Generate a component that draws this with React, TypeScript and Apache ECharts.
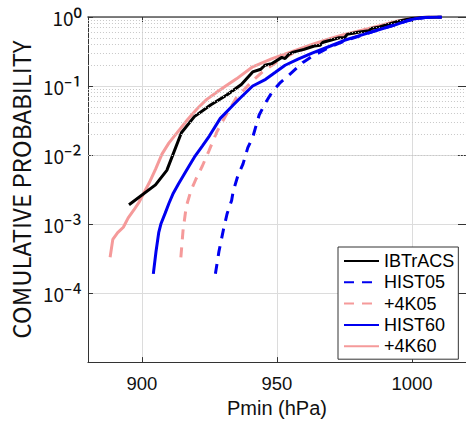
import React, { useEffect, useRef } from "react";
import * as echarts from "echarts";

// Pmin (hPa), cumulative probability
const ibtracs: [number, number][] = [
  [895.2, 0.0019], [905.0, 0.0037], [909.2, 0.006], [912.0, 0.0115], [914.6, 0.021],
  [919.4, 0.036], [925.4, 0.053], [931.4, 0.074], [936.8, 0.105], [941, 0.16],
  [944, 0.175], [945.5, 0.2], [948, 0.21], [951.8, 0.26], [953, 0.25], [954.5, 0.29],
  [956, 0.31], [960, 0.34], [963.8, 0.38], [966, 0.39], [967, 0.43], [969.8, 0.46],
  [973, 0.5], [975, 0.5], [976, 0.56], [980, 0.6], [984, 0.63], [985, 0.68],
  [988, 0.72], [991.4, 0.79], [995, 0.87], [999.8, 0.95], [1005, 0.99], [1011, 1],
];
const hist05: [number, number][] = [
  [927.2, 0.00019], [928.5, 0.0004], [930.2, 0.00084], [931.5, 0.0014], [933.2, 0.0022],
  [933.8, 0.003], [935.5, 0.005], [937.4, 0.0074], [939.2, 0.0128], [941, 0.018],
  [943.4, 0.038], [945.5, 0.055], [948.2, 0.082], [951, 0.11], [954.2, 0.141],
  [959.6, 0.22], [963, 0.27], [969.8, 0.37], [975, 0.45], [981.8, 0.55], [988, 0.66],
  [993.8, 0.77], [998, 0.87], [1001, 0.94], [1005, 0.985], [1011, 1],
];
const k405: [number, number][] = [
  [914.4, 0.00033], [915.2, 0.0008], [915.8, 0.0012], [916.4, 0.0018], [918.2, 0.0031],
  [920, 0.0045], [922.4, 0.007], [924.8, 0.0115], [927.8, 0.022], [931, 0.037],
  [935, 0.068], [938, 0.09], [941, 0.12], [945, 0.165], [950, 0.225], [956, 0.3],
  [963, 0.38], [970, 0.47], [977, 0.56], [984, 0.66], [991, 0.79], [997, 0.9],
  [1003, 0.98], [1011, 1],
];
const hist60: [number, number][] = [
  [904.2, 0.00019], [905.2, 0.0004], [906.2, 0.00075], [907, 0.001], [908.6, 0.00144],
  [910, 0.002], [911.6, 0.0028], [913.5, 0.0038], [915.8, 0.0054], [917.5, 0.007],
  [919.4, 0.0093], [922.4, 0.0136], [925, 0.019], [929, 0.034], [933.8, 0.053],
  [936.2, 0.066], [941, 0.1], [945.8, 0.125], [949.4, 0.158], [953, 0.2], [957.8, 0.245],
  [963, 0.3], [969.8, 0.38], [975, 0.46], [981.8, 0.555], [988, 0.66], [993.8, 0.77],
  [998, 0.88], [1001, 0.94], [1005, 0.985], [1011, 1],
];
const k460: [number, number][] = [
  [888.2, 0.00033], [889.2, 0.0006], [891, 0.00075], [893.1, 0.0009], [894.9, 0.00123],
  [897, 0.0016], [899, 0.0021], [902.6, 0.0039], [905, 0.0062], [907.4, 0.0103],
  [910, 0.015], [913.4, 0.022], [917, 0.033], [920.6, 0.0476], [924, 0.064],
  [927.8, 0.082], [931, 0.1], [935, 0.127], [941, 0.19], [948.2, 0.25], [957.8, 0.34],
  [963, 0.4], [969.8, 0.49], [975, 0.56], [981.8, 0.65], [988, 0.75], [993.8, 0.86],
  [1000, 0.95], [1005, 0.99], [1011, 1],
];

const xTicks = [900, 950, 1000];
const decades = [1e-5, 1e-4, 1e-3, 1e-2, 1e-1];
const minorGrid: number[] = [];
decades.forEach((d) => {
  for (let k = 2; k <= 9; k++) minorGrid.push(k * d);
});
const SUP: Record<string, string> = { "0": "\u2070", "1": "\u00b9", "2": "\u00b2", "3": "\u00b3", "4": "\u2074", "-": "\u207b" };

const FONT = "'Noto Sans CJK JP', 'Noto Sans', sans-serif";
const SANS = "'Liberation Sans', Arial, sans-serif";
const BLUE = "#0000f0";
const PINK = "#f59a9a";

export default function App() {
  const ref = useRef<HTMLDivElement>(null);
  useEffect(() => {
    if (!ref.current) return;
    const chart = echarts.init(ref.current, undefined, { renderer: "svg" });
    const lineSeries = (name: string, data: [number, number][], color: string, dashed: boolean, z: number) => ({
      name,
      type: "line",
      data,
      showSymbol: false,
      symbol: "none",
      z,
      lineStyle: { color, width: 3, type: dashed ? [10, 8] : "solid" },
      itemStyle: { color },
    });
    chart.setOption({
      animation: false,
      backgroundColor: "#fff",
      textStyle: { fontFamily: FONT },
      grid: { left: 81, top: 17, width: 388.5, height: 350, containLabel: false },
      legend: {
        left: 338,
        top: 247,
        orient: "vertical",
        data: ["IBTrACS", "HIST05", "+4K05", "HIST60", "+4K60"],
        backgroundColor: "#fff",
        borderColor: "#333",
        borderWidth: 1,
        borderRadius: 0,
        padding: [4, 4, 3, 5],
        itemWidth: 35,
        itemHeight: 12,
        itemGap: 1.3,
        itemStyle: { opacity: 0 },
        textStyle: { fontFamily: SANS, fontSize: 18, color: "#000", lineHeight: 20 },
      },
      xAxis: [
        {
          type: "value",
          min: 880,
          max: 1020,
          position: "bottom",
          axisLine: { show: true, lineStyle: { color: "#333", width: 1 } },
          axisTick: { show: true, inside: true, length: 5, customValues: xTicks, lineStyle: { color: "#333" } },
          axisLabel: {
            customValues: xTicks,
            formatter: (v: number) => String(v),
            fontFamily: SANS,
            fontSize: 18.5,
            color: "#111",
            margin: 12,
          },
          splitLine: { show: true, lineStyle: { color: "#dcdcdc", width: 1 } },
          name: "Pmin (hPa)",
          nameLocation: "middle",
          nameGap: 34,
          nameTextStyle: { fontFamily: SANS, fontSize: 20, color: "#111" },
        },
        {
          type: "value",
          min: 880,
          max: 1020,
          position: "top",
          axisLine: { show: true, lineStyle: { color: "#555", width: 1.5 } },
          axisTick: { show: true, inside: true, length: 5, customValues: xTicks, lineStyle: { color: "#333" } },
          axisLabel: { show: false },
          splitLine: { show: false },
        },
      ],
      yAxis: [
        {
          type: "log",
          logBase: 10,
          min: 1e-5,
          max: 1,
          axisLine: { show: true, lineStyle: { color: "#333", width: 1 } },
          axisTick: { show: true, inside: true, length: 5, lineStyle: { color: "#333" } },
          splitLine: { show: true, lineStyle: { color: "#dcdcdc", width: 1 } },
          axisLabel: {
            margin: 6,
            formatter: (v: number) => {
              const e = Math.round(Math.log10(v));
              if (e === -5) return "";
              const sup = String(e).split("").map((c) => SUP[c]).join("");
              return `{b|10}{s|${sup}}`;
            },
            rich: {
              b: { fontFamily: FONT, fontSize: 19, color: "#111" },
              s: { fontFamily: FONT, fontSize: 24, color: "#111" },
            },
          },
          name: "COMULATIVE PROBABILITY",
          nameLocation: "middle",
          nameGap: 50,
          nameTextStyle: { fontFamily: FONT, fontSize: 24, color: "#111" },
        },
        {
          type: "log",
          logBase: 10,
          min: 1e-5,
          max: 1,
          position: "right",
          axisLine: { show: true, lineStyle: { color: "#333", width: 1 } },
          axisTick: { show: true, inside: true, length: 8, lineStyle: { color: "#333" } },
          axisLabel: { show: false },
          splitLine: { show: false },
        },
      ],
      series: [
        {
          name: "grid-minor",
          type: "line",
          data: [],
          silent: true,
          z: 1,
          markLine: {
            silent: true,
            symbol: "none",
            label: { show: false },
            lineStyle: { color: "#c8c8c8", width: 1, type: [1, 2] },
            data: minorGrid.map((v) => ({ yAxis: v })),
          },
        },
        lineSeries("+4K05", k405, PINK, true, 2),
        lineSeries("+4K60", k460, PINK, false, 3),
        lineSeries("IBTrACS", ibtracs, "#000", false, 4),
        lineSeries("HIST05", hist05, BLUE, true, 5),
        lineSeries("HIST60", hist60, BLUE, false, 6),
      ],
    });
    return () => chart.dispose();
  }, []);
  return <div ref={ref} style={{ position: "absolute", left: 0, top: 0, width: 466, height: 423, overflow: "hidden" }} />;
}
